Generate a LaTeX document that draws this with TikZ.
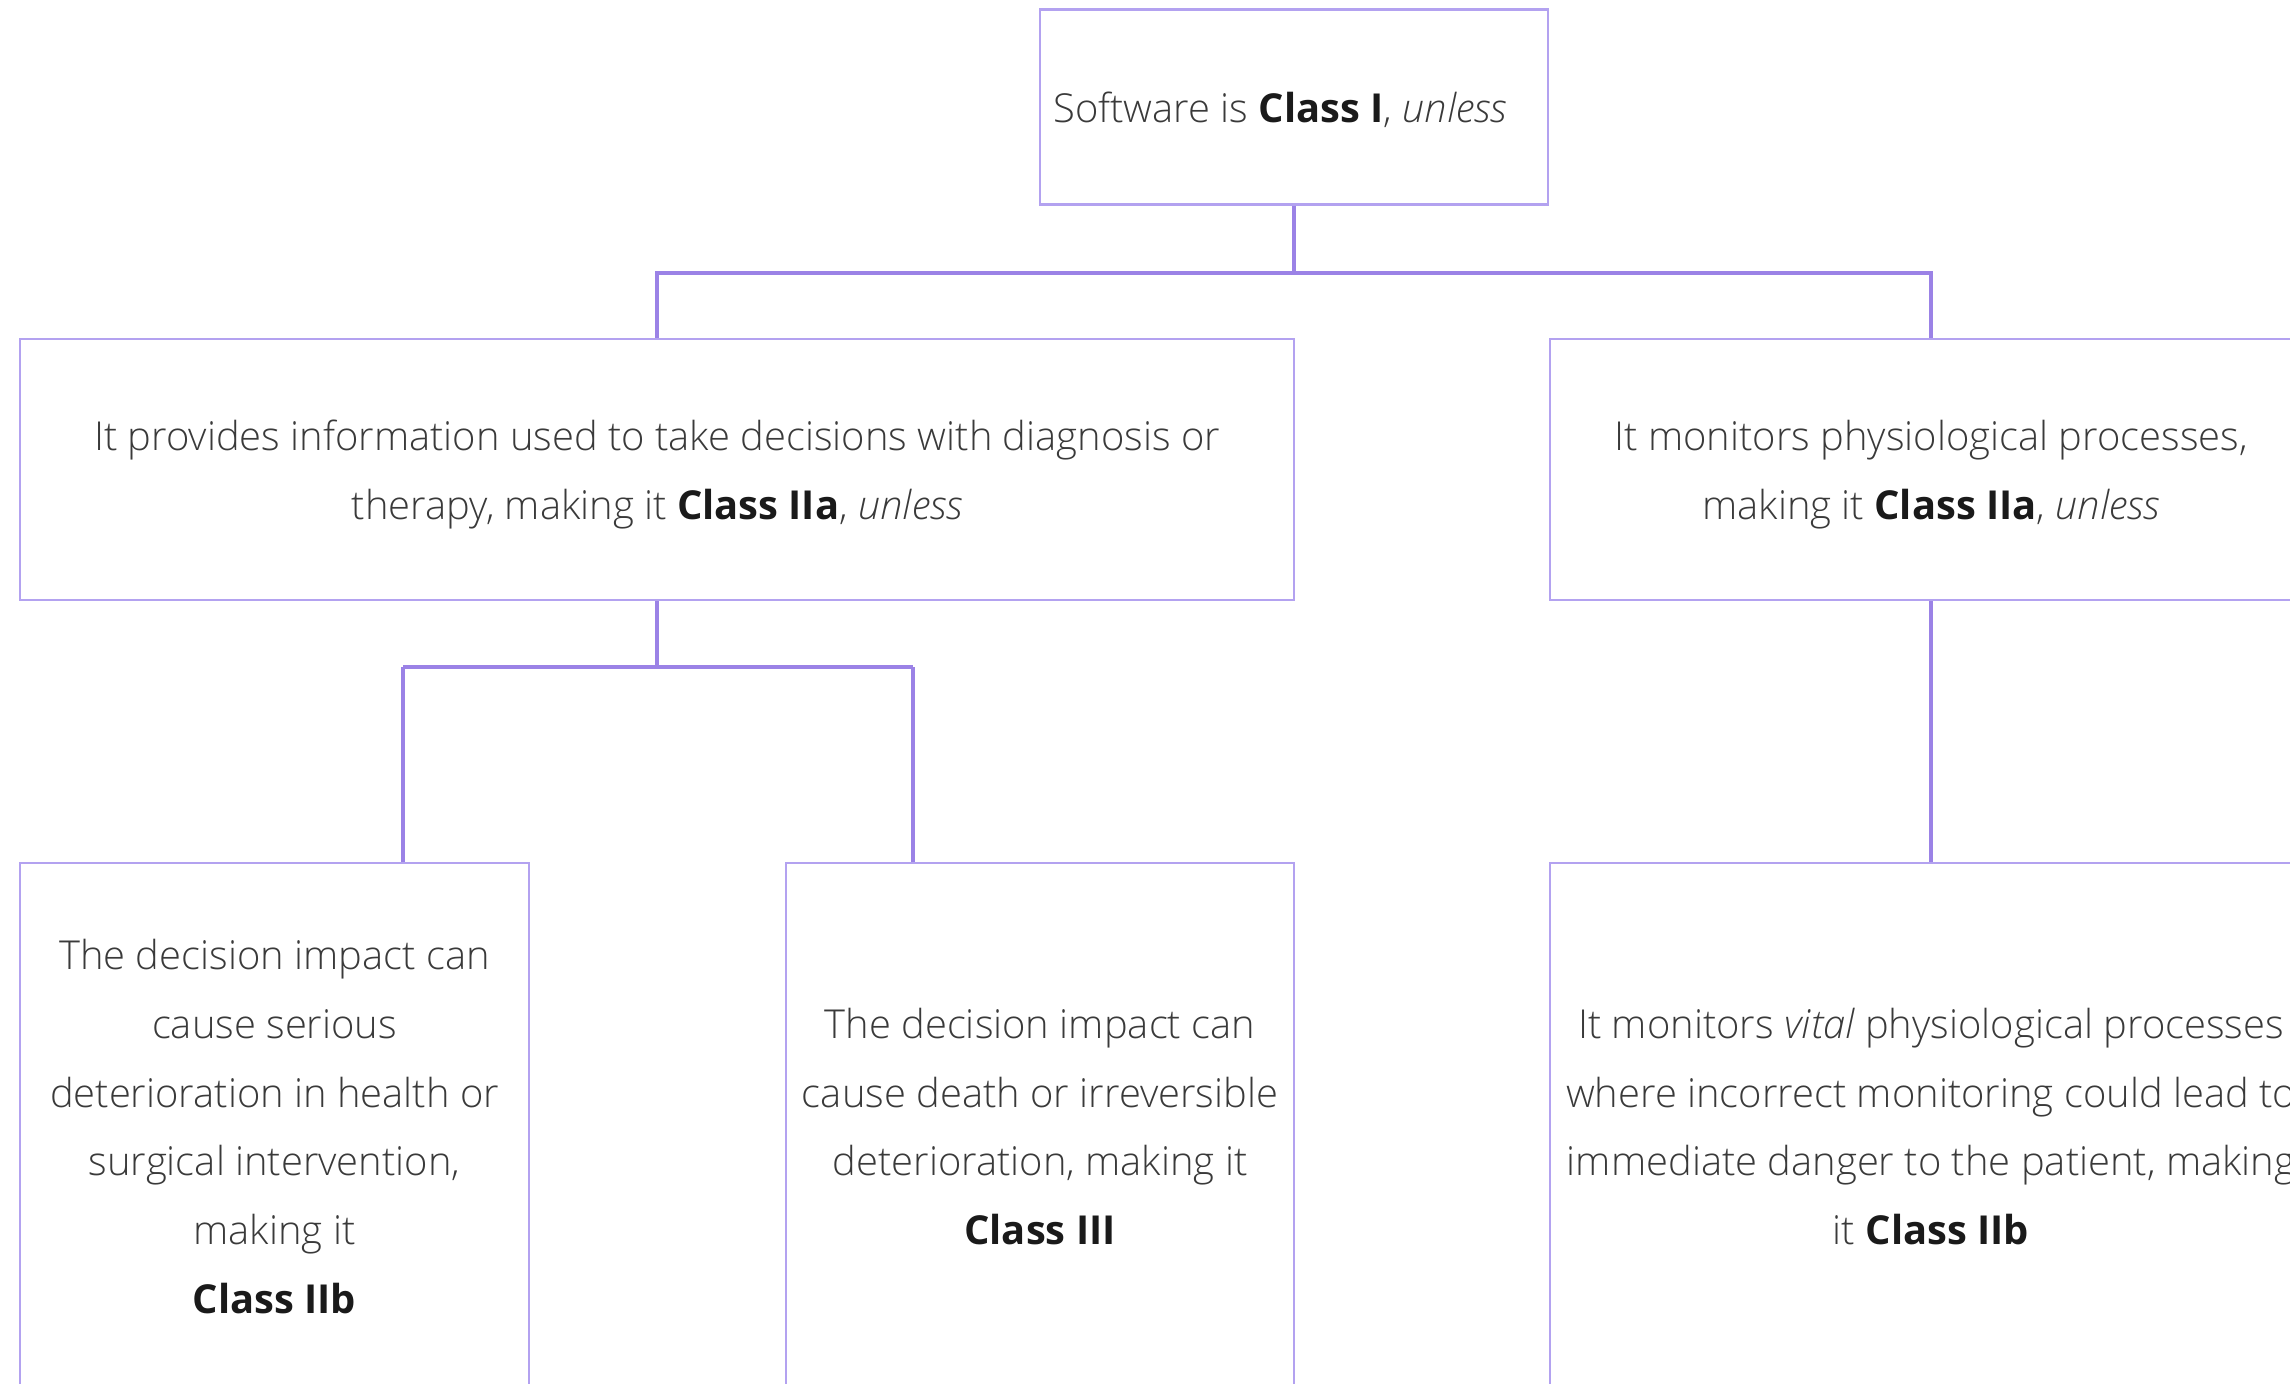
\documentclass[tikz,border=0pt]{standalone}
\usepackage{fontspec}
\setmainfont{Open Sans}[UprightFont=* Light, ItalicFont=* Light Italic, BoldFont=* Bold, BoldItalicFont=* Bold Italic]
\definecolor{boxline}{HTML}{B3A2F0}
\definecolor{conn}{HTML}{9B82E6}
\definecolor{txt}{HTML}{3A3A3A}
\definecolor{btxt}{HTML}{1A1A1A}
\newcommand{\cls}[1]{{\bfseries\color{btxt}#1}}
\begin{document}
\begin{tikzpicture}[x=1cm,y=1cm,
  box/.style={draw=boxline, line width=0.6pt, rectangle, inner sep=0pt, align=center,
    font=\fontsize{11.35}{19.6}\selectfont, text=txt},
  boxtext/.style={inner sep=0pt, align=center, font=\fontsize{11.35}{19.6}\selectfont, text=txt},
  link/.style={draw=conn, line width=0.9pt}]
\useasboundingbox (0,0) rectangle (22.9,-13.83);
\fill[white] (0,0) rectangle (22.9,-13.83);
\clip (0,0) rectangle (22.9,-13.83);
\node[box, minimum width=5.08cm, minimum height=1.95cm] (top) at (12.94,-1.07) {};
\node[boxtext] (topt) at ([xshift=-0.14cm, yshift=-0.03cm]top.center)
  {Software is \cls{Class I}, \textit{unless}};
\node[box, minimum width=12.74cm, minimum height=2.61cm] (midL) at (6.57,-4.695) {};
\node[boxtext] (midLt) at ([yshift=-0.05cm]midL.center)
  {It provides information used to take decisions with diagnosis or\\
   therapy, making it \cls{Class IIa}, \textit{unless}};
\node[box, minimum width=7.62cm, minimum height=2.61cm] (midR) at (19.31,-4.695) {};
\node[boxtext] (midRt) at ([yshift=-0.05cm]midR.center)
  {It monitors physiological processes,\\
   making it \cls{Class IIa}, \textit{unless}};
\node[box, minimum width=5.09cm, minimum height=5.27cm] (botL) at (2.745,-11.265)
  {The decision impact can\\ cause serious\\ deterioration in health or\\
   surgical intervention,\\ making it\\ \cls{Class IIb}};
\node[box, minimum width=5.08cm, minimum height=5.27cm] (botM) at (10.40,-11.265)
  {The decision impact can\\ cause death or irreversible\\ deterioration, making it\\ \cls{Class III}};
\node[box, minimum width=7.62cm, minimum height=5.27cm] (botR) at (19.31,-11.265)
  {It monitors \textit{vital} physiological processes\\ where incorrect monitoring could lead to\\
   immediate danger to the patient, making\\ it \cls{Class IIb}};
\coordinate (j1) at (12.94,-2.73);
\coordinate (cL) at (4.03,-6.67);
\coordinate (cM) at (9.13,-6.67);
\draw[link] (top.south) -- (j1);
\draw[link] (midL.north) |- (j1) -| (midR.north);
\draw[link] (midL.south) -- (midL.south |- cL);
\draw[link] (cL) -- (cM);
\draw[link] (cL) -- (cL |- botL.north);
\draw[link] (cM) -- (cM |- botM.north);
\draw[link] (midR.south) -- (botR.north);
\end{tikzpicture}
\end{document}
